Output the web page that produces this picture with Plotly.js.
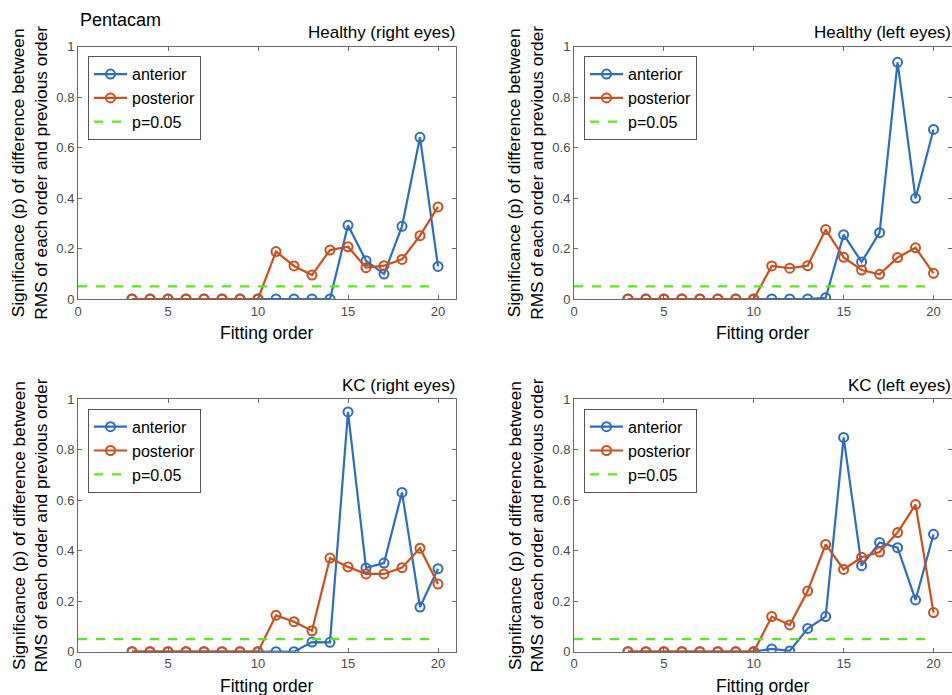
<!DOCTYPE html>
<html>
<head>
<meta charset="utf-8">
<script src="https://cdn.plot.ly/plotly-3.0.1.min.js"></script>
<style>html,body{margin:0;padding:0;background:#fff;}#chart{width:952px;height:695px;}</style>
</head>
<body>
<div id="chart"></div>
<script>
const orders = [3,4,5,6,7,8,9,10,11,12,13,14,15,16,17,18,19,20];
const panelTitles = ["Healthy (right eyes)", "Healthy (left eyes)", "KC (right eyes)", "KC (left eyes)"];
const healthyRightAnterior  = [0,0,0,0,0,0,0,0,0,0,0,0,0.292,0.152,0.099,0.288,0.641,0.129];
const healthyRightPosterior = [0,0,0,0,0,0,0,0,0.188,0.131,0.095,0.194,0.207,0.124,0.132,0.157,0.251,0.365];
const healthyLeftAnterior   = [0,0,0,0,0,0,0,0,0,0,0,0.005,0.255,0.147,0.263,0.938,0.399,0.672];
const healthyLeftPosterior  = [0,0,0,0,0,0,0,0,0.131,0.122,0.132,0.275,0.165,0.115,0.098,0.164,0.203,0.102];
const kcRightAnterior       = [0,0,0,0,0,0,0,0,0,0,0.038,0.037,0.950,0.332,0.351,0.631,0.177,0.329];
const kcRightPosterior      = [0,0,0,0,0,0,0,0,0.144,0.119,0.083,0.371,0.336,0.308,0.308,0.333,0.410,0.268];
const kcLeftAnterior        = [0,0,0,0,0,0,0,0,0.011,0.003,0.092,0.139,0.849,0.341,0.433,0.412,0.205,0.465];
const kcLeftPosterior       = [0,0,0,0,0,0,0,0,0.139,0.106,0.240,0.425,0.326,0.374,0.395,0.472,0.583,0.155];
const thresholdX = [0, 20];
const thresholdY = [0.05, 0.05];
const xTicks = [0,5,10,15,20];
const yTicks = [0,0.2,0.4,0.6,0.8,1];
const yTickText = ["0","0.2","0.4","0.6","0.8","1"];

const anteriorSets = [healthyRightAnterior, healthyLeftAnterior, kcRightAnterior, kcLeftAnterior];
const posteriorSets = [healthyRightPosterior, healthyLeftPosterior, kcRightPosterior, kcLeftPosterior];

const W = 952, H = 695;
const FONT = "Liberation Sans, Arial, Helvetica, sans-serif";
const BLUE = "#2F6DBE", ORANGE = "#C8511E", GREEN = "#5FE81A";

// pixel geometry of panels
const panels = [
  {x0: 78, x1: 456, y0: 46.7, y1: 299},
  {x0: 574, x1: 951.5, y0: 46.7, y1: 299},
  {x0: 78, x1: 456, y0: 399.3, y1: 651.7},
  {x0: 574, x1: 951.5, y0: 399.3, y1: 651.7}
];

const data = [];
const layout = {
  width: W, height: H,
  margin: {l:0, r:0, t:0, b:0},
  paper_bgcolor: "#fff", plot_bgcolor: "#fff",
  font: {family: FONT, color: "#000"},
  showlegend: true,
  annotations: [],
  shapes: []
};

panels.forEach((p, i) => {
  const n = i + 1;
  const xa = n === 1 ? "x" : "x" + n;
  const ya = n === 1 ? "y" : "y" + n;
  const lg = n === 1 ? "legend" : "legend" + n;
  data.push({x: orders, y: anteriorSets[i], xaxis: xa, yaxis: ya, legend: lg, name: "anterior",
    mode: "lines+markers", line: {color: BLUE, width: 2.2},
    marker: {symbol: "circle-open", size: 9, color: BLUE, line: {width: 2, color: BLUE}}});
  data.push({x: orders, y: posteriorSets[i], xaxis: xa, yaxis: ya, legend: lg, name: "posterior",
    mode: "lines+markers", line: {color: ORANGE, width: 2.2},
    marker: {symbol: "circle-open", size: 9, color: ORANGE, line: {width: 2, color: ORANGE}}});
  data.push({x: thresholdX, y: thresholdY, xaxis: xa, yaxis: ya, legend: lg, name: "p=0.05",
    mode: "lines", line: {color: GREEN, width: 2.2, dash: "dash"}});

  const axCommon = {
    showline: true, linecolor: "#6b6b6b", linewidth: 1, mirror: "ticks",
    ticks: "inside", ticklen: 4, tickcolor: "#6b6b6b", tickwidth: 1,
    showgrid: false, zeroline: false,
    tickfont: {family: FONT, size: 13, color: "#4a4a4a"}
  };
  layout["xaxis" + (n === 1 ? "" : n)] = Object.assign({}, axCommon, {
    domain: [p.x0 / W, p.x1 / W], range: [0, 21], anchor: ya,
    tickmode: "array", tickvals: xTicks, ticktext: xTicks.map(String)
  });
  layout["yaxis" + (n === 1 ? "" : n)] = Object.assign({}, axCommon, {
    domain: [1 - p.y1 / H, 1 - p.y0 / H], range: [0, 1], anchor: xa,
    tickmode: "array", tickvals: yTicks, ticktext: yTickText
  });
  layout[lg] = {
    x: (p.x0 + 10) / W, y: 1 - (p.y0 + 9.5) / H, xref: "paper", yref: "paper",
    xanchor: "left", yanchor: "top",
    bgcolor: "#fff", bordercolor: "#555", borderwidth: 1,
    font: {family: FONT, size: 16, color: "#000"},
    itemwidth: 33, tracegroupgap: 0
  };
  // panel title (right aligned)
  layout.annotations.push({text: panelTitles[i], xref: "paper", yref: "paper",
    x: (p.x1 + 1) / W, y: 1 - (p.y0 - 14) / H, xanchor: "right", yanchor: "middle",
    showarrow: false, font: {family: FONT, size: 17, color: "#000"}});
  // x axis title
  layout.annotations.push({text: "Fitting order", xref: "paper", yref: "paper",
    x: (p.x0 + 378 / 2) / W, y: 1 - (p.y1 + 34) / H, xanchor: "center", yanchor: "middle",
    showarrow: false, font: {family: FONT, size: 17.5, color: "#000"}});
  // y axis title (two lines, rotated)
  layout.annotations.push({text: "Significance (p) of difference between<br>RMS of each order and previous order",
    xref: "paper", yref: "paper",
    x: (p.x0 - 49) / W, y: 1 - ((p.y0 + p.y1) / 2) / H, xanchor: "center", yanchor: "middle",
    textangle: -90, showarrow: false, font: {family: FONT, size: 17.3, color: "#000"}});
});

layout.annotations.push({text: "Pentacam", xref: "paper", yref: "paper",
  x: 78 / W, y: 1 - 20 / H, xanchor: "left", yanchor: "middle",
  showarrow: false, font: {family: FONT, size: 18, color: "#000"}});

Plotly.newPlot("chart", data, layout, {displayModeBar: false, staticPlot: true});
</script>
</body>
</html>
